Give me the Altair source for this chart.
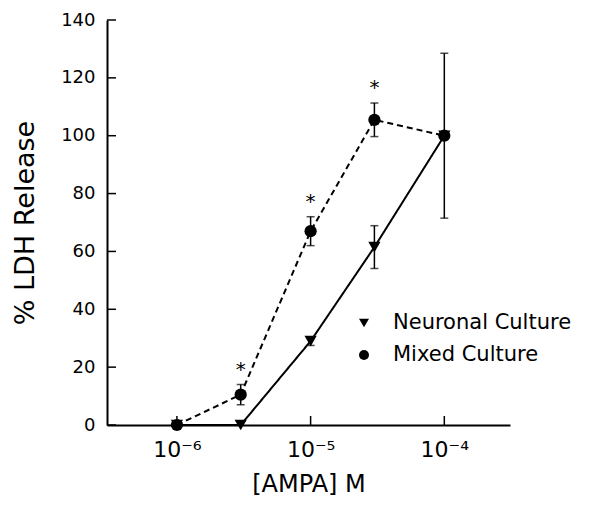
import math
import altair as alt
import pandas as pd

# ---- data ----
conc = [1e-6, 3e-6, 1e-5, 3e-5, 1e-4]
neuronal = [0.0, 0.0, 29.0, 61.5, 100.0]
neuronal_err = [0.0, 0.0, 1.5, 7.4, 0.0]
mixed = [0.0, 10.5, 67.0, 105.5, 100.0]
mixed_err = [0.0, 3.5, 5.0, 5.8, 28.5]
series_names = ["Neuronal Culture", "Mixed Culture"]
series_shapes = ["triangle-down", "circle"]
series_dash = [[1, 0], [6, 4]]
sig_conc = [3e-6, 1e-5, 3e-5]          # concentrations marked with *
x_tick_values = [1e-6, 1e-5, 1e-4]
x_tick_labels = ["10\u207b\u2076", "10\u207b\u2075", "10\u207b\u2074"]
y_tick_values = [0, 20, 40, 60, 80, 100, 120, 140]

rows = []
for name, vals, errs in [(series_names[0], neuronal, neuronal_err),
                         (series_names[1], mixed, mixed_err)]:
    for c, v, e in zip(conc, vals, errs):
        rows.append({"conc": c, "val": v, "err": e, "lo": v - e, "hi": v + e,
                     "series": name})
df = pd.DataFrame(rows)
df_err = df[df["err"] > 0]
df_sig = df[(df["series"] == series_names[1]) & (df["conc"].isin(sig_conc))].copy()
df_sig["star"] = "*"
df_xt = pd.DataFrame({"v": x_tick_values})
df_yt = pd.DataFrame({"v": y_tick_values})

label_expr = ""
for v, lab in zip(x_tick_values, x_tick_labels):
    label_expr += "abs(log(datum.value)/LN10 - (%g)) < 0.01 ? '%s' : " % (
        math.log10(v), lab)
label_expr += "''"

FONT = "DejaVu Sans"
W, H = 403, 405

scale_x = alt.Scale(type="log", domain=[3e-7, 3.1e-4])
scale_y = alt.Scale(domain=[0, 140])
x_axis = alt.Axis(values=x_tick_values, labelExpr=label_expr, title="[AMPA] M",
                  labelFontSize=22, labelPadding=14, titleFontSize=24,
                  titlePadding=12, labelFlush=False)
y_axis = alt.Axis(values=y_tick_values, title="% LDH Release", labelFontSize=18,
                  labelPadding=12, titleFontSize=27, titlePadding=21)

def X(field):
    return alt.X(field, type="quantitative", scale=scale_x, axis=x_axis)

def Y(field):
    return alt.Y(field, type="quantitative", scale=scale_y, axis=y_axis)

base = alt.Chart(df)

lines = base.mark_line(color="black", strokeWidth=2).encode(
    x=X("conc"), y=Y("val"),
    detail="series:N",
    strokeDash=alt.StrokeDash("series:N",
                              scale=alt.Scale(domain=series_names, range=series_dash),
                              legend=None),
)

errbars = alt.Chart(df_err).mark_errorbar(
    color="black", thickness=1.5, ticks={"size": 8, "thickness": 1.5}
).encode(x=X("conc"), y=Y("lo"), y2="hi")

points = base.mark_point(filled=True, color="black", opacity=1, size=150).encode(
    x=X("conc"), y=Y("val"),
    shape=alt.Shape("series:N",
                    scale=alt.Scale(domain=series_names, range=series_shapes),
                    legend=None),
    order=alt.Order("series:N", sort="descending"),
)

stars = alt.Chart(df_sig).mark_text(
    font=FONT, fontSize=20, color="black", baseline="alphabetic", dy=-9
).encode(x=X("conc"), y=Y("hi"), text="star:N")

yticks = alt.Chart(df_yt).mark_rule(color="black", strokeWidth=1.5).encode(
    y=Y("v"), x=alt.value(0), x2=alt.value(9))
xticks = alt.Chart(df_xt).mark_rule(color="black", strokeWidth=1.5).encode(
    x=X("v"), y=alt.value(H), y2=alt.value(H - 9))

# manual legend (inside the plot, right-middle)
LEG_X, LEG_Y, LEG_DY, LEG_TX = 257, 303, 32, 286
legend_layers = []
for i, (name, shp) in enumerate(zip(series_names, series_shapes)):
    d = pd.DataFrame({"label": [name]})
    legend_layers.append(
        alt.Chart(d).mark_point(filled=True, color="black", opacity=1,
                                shape=shp, size=100).encode(
            x=alt.value(LEG_X), y=alt.value(LEG_Y + LEG_DY * i)))
    legend_layers.append(
        alt.Chart(d).mark_text(font=FONT, fontSize=21, color="black",
                               align="left", baseline="middle").encode(
            x=alt.value(LEG_TX), y=alt.value(LEG_Y + LEG_DY * i), text="label:N"))

chart = alt.layer(lines, errbars, yticks, xticks, points, stars,
                  *legend_layers).properties(
    width=W, height=H,
    autosize=alt.AutoSizeParams(type="none"),
    padding={"left": 99, "top": 12, "right": 85, "bottom": 72},
).configure_view(stroke=None).configure_axis(
    grid=False, ticks=False, tickSize=0, domainColor="black", domainWidth=2,
    labelColor="black", titleColor="black", labelFont=FONT, titleFont=FONT,
    titleFontWeight="normal",
)

chart.save("out.html", embed_options={"renderer": "svg", "actions": False})
